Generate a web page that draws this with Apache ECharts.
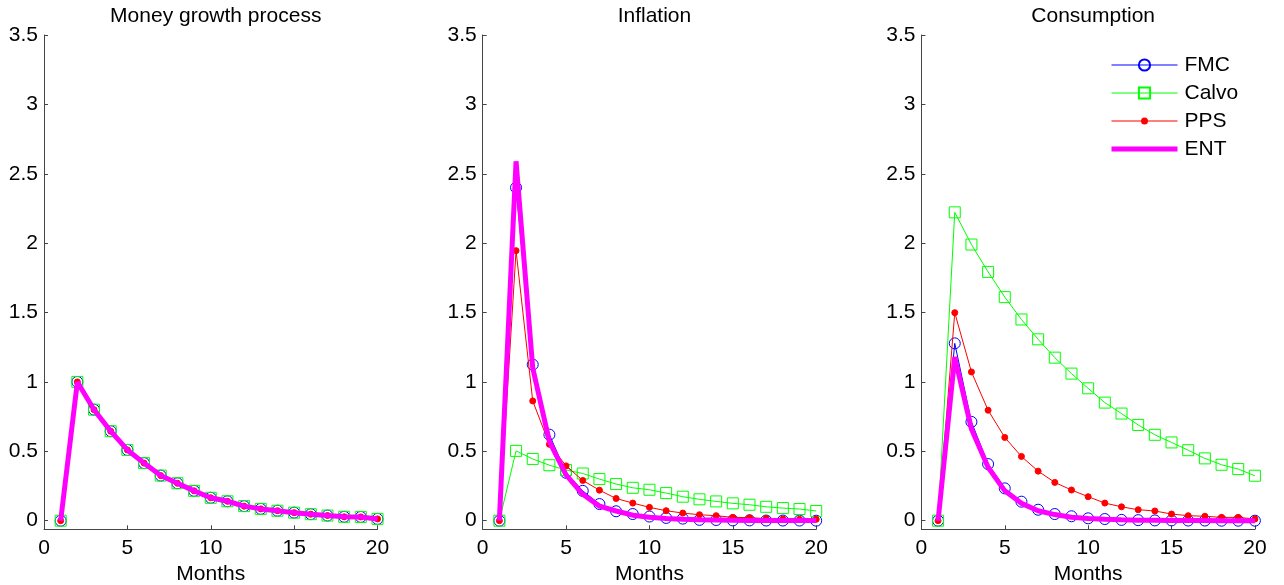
<!DOCTYPE html>
<html>
<head>
<meta charset="utf-8">
<script src="https://cdn.jsdelivr.net/npm/echarts@6/dist/echarts.min.js"></script>
<style>
html,body{margin:0;padding:0;background:#fff;}
#chart{width:1284px;height:585px;}
</style>
</head>
<body>
<div id="chart"></div>
<script>
// ---- data ----
var months = [1,2,3,4,5,6,7,8,9,10,11,12,13,14,15,16,17,18,19,20];
var panelTitles = ['Money growth process', 'Inflation', 'Consumption'];
var seriesNames = ['FMC', 'Calvo', 'PPS', 'ENT'];
var yTicks = [0, 0.5, 1, 1.5, 2, 2.5, 3, 3.5];
var xTicks = [0, 5, 10, 15, 20];

var moneyGrowth = [0, 1.0, 0.80, 0.645, 0.51, 0.415, 0.325, 0.27, 0.215, 0.165, 0.14, 0.105, 0.085, 0.072, 0.058, 0.047, 0.037, 0.028, 0.027, 0.013];

var inflFMC   = [0, 2.40, 1.125, 0.62, 0.345, 0.215, 0.12, 0.068, 0.048, 0.03, 0.02, 0.015, 0.006, 0.005, 0.002, 0.002, 0.001, 0.001, 0.001, 0];
var inflCalvo = [0, 0.503, 0.445, 0.40, 0.365, 0.34, 0.30, 0.264, 0.237, 0.223, 0.199, 0.173, 0.154, 0.139, 0.125, 0.115, 0.10, 0.091, 0.084, 0.07];
var inflPPS   = [0, 1.946, 0.863, 0.55, 0.395, 0.29, 0.22, 0.16, 0.127, 0.096, 0.072, 0.055, 0.043, 0.036, 0.024, 0.022, 0.015, 0.012, 0.01, 0.01];
var inflENT   = [0, 2.59, 1.10, 0.57, 0.33, 0.19, 0.105, 0.07, 0.04, 0.025, 0.015, 0.01, 0.007, 0.005, 0.003, 0.002, 0.002, 0.001, 0.001, 0.001];

var consFMC   = [0, 1.278, 0.712, 0.408, 0.233, 0.137, 0.079, 0.048, 0.032, 0.017, 0.012, 0.006, 0.004, 0.002, 0.002, 0.001, 0.001, 0, 0, 0];
var consCalvo = [0, 2.222, 1.99, 1.793, 1.611, 1.45, 1.307, 1.175, 1.06, 0.954, 0.851, 0.772, 0.69, 0.619, 0.564, 0.508, 0.449, 0.403, 0.372, 0.324];
var consPPS   = [0, 1.499, 1.072, 0.796, 0.60, 0.463, 0.357, 0.276, 0.221, 0.173, 0.127, 0.10, 0.079, 0.07, 0.048, 0.036, 0.032, 0.024, 0.024, 0.012];
var consENT   = [0, 1.18, 0.66, 0.385, 0.215, 0.125, 0.072, 0.044, 0.025, 0.015, 0.01, 0.006, 0.004, 0.003, 0.002, 0.001, 0.001, 0, 0, 0];

var panelData = [
  [moneyGrowth, moneyGrowth, moneyGrowth, moneyGrowth],
  [inflFMC, inflCalvo, inflPPS, inflENT],
  [consFMC, consCalvo, consPPS, consENT]
];

// ---- styling ----
var FONT = '"Liberation Sans", Arial, Helvetica, sans-serif';
var styles = {
  FMC:   {color: '#0000ff', symbol: 'circle', symbolSize: 11, width: 1, fill: 'rgba(255,255,255,0)'},
  Calvo: {color: '#00ff00', symbol: 'rect', symbolSize: 11, width: 1, fill: 'rgba(255,255,255,0)'},
  PPS:   {color: '#ff0000', symbol: 'circle', symbolSize: 6, width: 1, fill: '#ff0000'},
  ENT:   {color: '#ff00ff', symbol: 'none', symbolSize: 0, width: 5, fill: '#ff00ff'}
};
var legendItems = [
  {name: 'FMC', lineStyle: {color: '#0000ff', width: 1}},
  {name: 'Calvo', lineStyle: {color: '#00ff00', width: 1}},
  {name: 'PPS', icon: 'path://M0,6.5L66,6.5L66,7.5L0,7.5Z M29.5,7A3.5,3.5 0 1,1 36.5,7A3.5,3.5 0 1,1 29.5,7Z',
   itemStyle: {color: '#ff0000', borderWidth: 0}},
  {name: 'ENT', icon: 'path://M0,0L66,0L66,5L0,5Z', itemStyle: {color: '#ff00ff', borderWidth: 0}}
];
var gridLefts = [44, 482.7, 921.4];
var gridWidth = 333.5;
var gridTop = 35;
var gridHeight = 494.3;

var grids = [], xAxes = [], yAxes = [], titles = [], series = [];
for (var p = 0; p < 3; p++) {
  grids.push({left: gridLefts[p], top: gridTop, width: gridWidth, height: gridHeight,
    containLabel: false, outerBoundsMode: 'none'});
  titles.push({
    text: panelTitles[p], left: gridLefts[p] + gridWidth / 2, top: 1, textAlign: 'center',
    textStyle: {fontFamily: FONT, fontSize: 21, fontWeight: 'normal', color: '#000'}
  });
  xAxes.push({
    type: 'value', gridIndex: p, min: 0, max: 20, interval: 5,
    name: 'Months', nameLocation: 'middle', nameGap: 34,
    nameTextStyle: {fontFamily: FONT, fontSize: 21, color: '#000'},
    axisLine: {show: true, onZero: false, lineStyle: {color: '#444', width: 1}},
    axisTick: {show: true, inside: true, length: 4, lineStyle: {color: '#444'}},
    axisLabel: {fontFamily: FONT, fontSize: 21, color: '#000', margin: 8},
    splitLine: {show: false}
  });
  yAxes.push({
    type: 'value', gridIndex: p, min: -0.062, max: 3.5,
    axisLine: {show: true, onZero: false, lineStyle: {color: '#444', width: 1}},
    axisTick: {show: true, inside: true, length: 4, customValues: yTicks, lineStyle: {color: '#444'}},
    axisLabel: {fontFamily: FONT, fontSize: 21, color: '#000', margin: 6, customValues: yTicks,
      formatter: function (v) { return String(v); }},
    splitLine: {show: false}
  });
  for (var s = 0; s < 4; s++) {
    var nm = seriesNames[s], st = styles[nm], vals = panelData[p][s];
    var d = [];
    for (var i = 0; i < months.length; i++) d.push([months[i], vals[i]]);
    series.push({
      name: nm, type: 'line', xAxisIndex: p, yAxisIndex: p, data: d,
      symbol: st.symbol, symbolSize: st.symbolSize, showSymbol: st.symbol !== 'none',
      animation: false, silent: true, z: 2 + s,
      lineStyle: {color: st.color, width: st.width},
      itemStyle: {color: st.fill, borderColor: st.color, borderWidth: 1},
      emphasis: {disabled: true}
    });
  }
}

var chart = echarts.init(document.getElementById('chart'), null, {renderer: 'canvas'});
chart.setOption({
  backgroundColor: '#ffffff',
  animation: false,
  title: titles,
  grid: grids,
  xAxis: xAxes,
  yAxis: yAxes,
  legend: {
    data: legendItems, orient: 'vertical', left: 1111, top: 54.5, padding: 0,
    itemWidth: 66, itemHeight: 14, itemGap: 7, selectedMode: false,
    textStyle: {fontFamily: FONT, fontSize: 21, color: '#000', padding: [0, 0, 0, 2]}
  },
  series: series
});
</script>
</body>
</html>
